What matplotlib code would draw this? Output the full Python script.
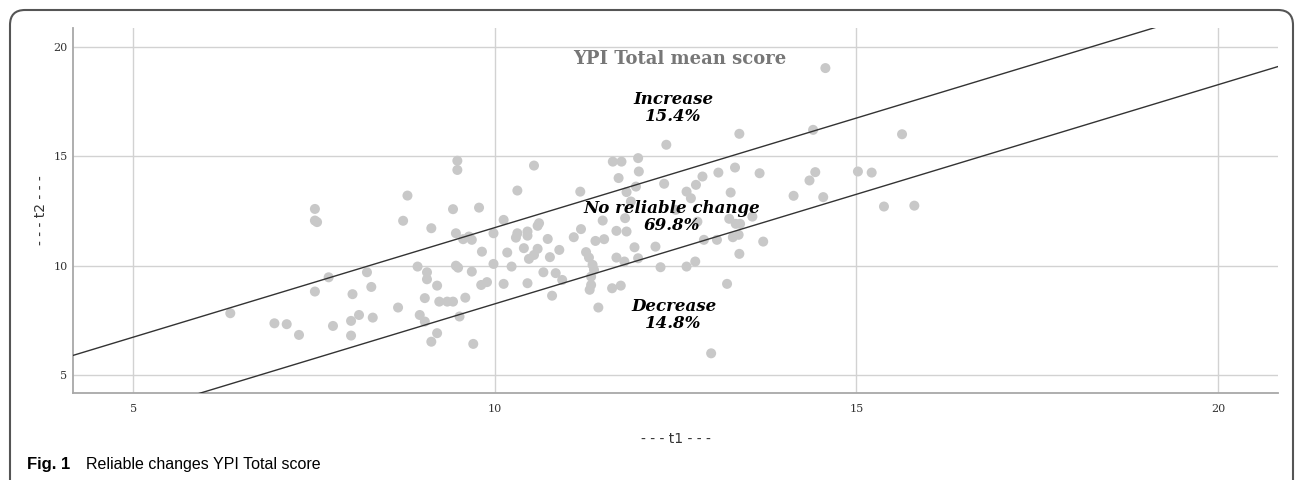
import matplotlib
matplotlib.use('Agg')
import matplotlib.pyplot as plt
from matplotlib.patches import FancyBboxPatch
import numpy as np

# t1 / t2 scores
t1 = [6.34, 6.95, 7.12, 7.29, 7.51, 7.51, 7.54, 7.51, 7.70, 7.76, 8.03, 8.01, 8.01,
      8.12, 8.31, 8.23, 8.29, 8.66,
      8.73, 8.79, 9.48, 9.48, 10.54, 10.31, 9.42, 9.78, 9.12, 10.12, 9.46, 9.56, 9.64,
      9.68, 9.98, 9.82, 10.31, 10.29, 10.45, 10.45, 10.61, 10.59, 10.73, 10.89, 10.17,
      10.40, 10.59, 10.54, 10.47, 10.76, 8.93, 9.46, 9.49, 9.68, 9.98, 10.23, 9.06,
      9.06, 9.20, 9.81, 9.89, 10.12, 10.45, 10.67, 10.84, 10.79, 9.03, 9.23, 9.34,
      9.42, 9.59, 8.96, 9.03, 9.51, 9.20, 9.12, 9.70,
      10.93, 12.37, 11.63, 11.75, 11.98, 11.71, 11.99, 12.34, 11.18, 11.82, 11.95,
      12.65, 12.78, 12.87, 11.88, 12.71, 11.49, 11.80, 11.19, 11.68, 11.82, 11.09,
      11.39, 11.51, 11.26, 11.30, 11.35, 11.37, 11.33, 11.33, 11.31, 11.68, 11.93,
      12.22, 11.98, 11.79, 11.62, 11.74, 11.43, 12.29, 12.65, 12.77, 12.89, 12.80,
      12.50, 12.99, 13.38, 14.40, 15.63, 14.57, 13.09, 13.32, 13.66, 14.35, 14.43,
      15.02, 15.21, 15.38, 15.80, 14.54, 14.13, 13.26, 13.24, 13.33, 13.39, 13.56,
      13.29, 13.37, 13.07, 13.71, 13.38, 13.21]
t2 = [7.83, 7.37, 7.33, 6.84, 12.59, 12.06, 11.99, 8.82, 9.47, 7.25, 8.70, 7.48, 6.81,
      7.75, 7.63, 9.70, 9.03, 8.09,
      12.05, 13.20, 14.79, 14.37, 14.57, 13.43, 12.58, 12.65, 11.71, 12.09, 11.48, 11.21,
      11.33, 11.18, 11.48, 10.64, 11.48, 11.28, 11.56, 11.37, 11.94, 11.82, 11.22,
      10.72, 10.60, 10.80, 10.77, 10.49, 10.31, 10.39, 9.96, 10.00, 9.91, 9.73, 10.08,
      9.96, 9.70, 9.38, 9.09, 9.12, 9.25, 9.17, 9.20, 9.70, 9.66, 8.63, 8.52, 8.36,
      8.36, 8.36, 8.54, 7.75, 7.45, 7.68, 6.92, 6.53, 6.43,
      9.35, 15.52, 14.75, 14.75, 14.91, 14.00, 14.30, 13.74, 13.38, 13.36, 13.61,
      13.38, 13.69, 14.07, 12.93, 13.08, 12.06, 12.17, 11.67, 11.59, 11.56, 11.30,
      11.13, 11.21, 10.62, 10.37, 10.04, 9.81, 9.50, 9.12, 8.90, 10.37, 10.84,
      10.87, 10.34, 10.19, 8.97, 9.09, 8.09, 9.93, 9.96, 10.19, 11.18, 12.01,
      12.55, 6.00, 16.02, 16.20, 16.00, 19.02, 14.25, 14.48, 14.22, 13.89, 14.27,
      14.30, 14.25, 12.70, 12.74, 13.13, 13.19, 13.34, 12.14, 11.91, 11.91, 12.24,
      11.30, 11.41, 11.18, 11.10, 10.54, 9.17]

rci = 1.74  # reliable change band half width
ticks = [5, 10, 15, 20]
zones = ['Increase\n15.4%', 'No reliable change\n69.8%', 'Decrease\n14.8%']

fig = plt.figure(figsize=(12.95, 4.8), dpi=100)
ax = fig.add_axes([0.0564, 0.1813, 0.9305, 0.7604])

ax.scatter(t1, t2, s=52, color='#c8c8c8', edgecolors='none', zorder=3)

xl = np.array([4.1, 21.0])
ax.plot(xl, xl + rci, color='#333333', lw=1.0, zorder=4)
ax.plot(xl, xl - rci, color='#333333', lw=1.0, zorder=4)

ax.set_xlim(4.165, 20.83)
ax.set_ylim(4.19, 20.85)
ax.set_xticks(ticks)
ax.set_yticks(ticks)
ax.set_xticklabels(ticks, family='DejaVu Serif', fontsize=8, color='#333333')
ax.set_yticklabels(ticks, family='DejaVu Serif', fontsize=8, color='#333333')
ax.tick_params(length=0, pad=8)
ax.tick_params(axis='y', pad=4)
ax.grid(True, color='#d2d2d2', lw=1.0, zorder=0)
ax.set_axisbelow(True)
for s in ['top', 'right']:
    ax.spines[s].set_visible(False)
for s in ['left', 'bottom']:
    ax.spines[s].set_color('#a8a8a8')
    ax.spines[s].set_linewidth(1.3)

ax.set_xlabel('- - - t1 - - -', fontsize=10, color='#333333', labelpad=13)
ax.set_ylabel('- - - t2 - - -', fontsize=10, color='#333333', labelpad=4)

ax.text(12.55, 19.45, 'YPI Total mean score', family='DejaVu Serif', fontweight='bold',
        fontsize=13, color='#777777', ha='center', va='center', zorder=5)
for zx, zy, lbl in [(12.47, 17.2, zones[0]), (12.45, 12.2, zones[1]), (12.47, 7.75, zones[2])]:
    ax.text(zx, zy, lbl, family='DejaVu Serif', fontweight='bold', style='italic',
            fontsize=12, ha='center', va='center', linespacing=1.0, zorder=5)

# rounded frame around the figure
box = FancyBboxPatch((0.1, -0.3), 12.83, 5.0, boxstyle='round,pad=0,rounding_size=0.15',
                     transform=fig.dpi_scale_trans, facecolor='none',
                     edgecolor='#555555', lw=1.5, clip_on=False)
fig.patches.append(box)

fig.text(27 / 1295, 1 - 465 / 480, 'Fig. 1', fontweight='bold', fontsize=12,
         family='Liberation Sans', va='center', ha='left')
fig.text(86 / 1295, 1 - 465 / 480, 'Reliable changes YPI Total score', fontsize=11.5,
         family='Liberation Sans', va='center', ha='left')

fig.savefig('out.png', dpi=100)
